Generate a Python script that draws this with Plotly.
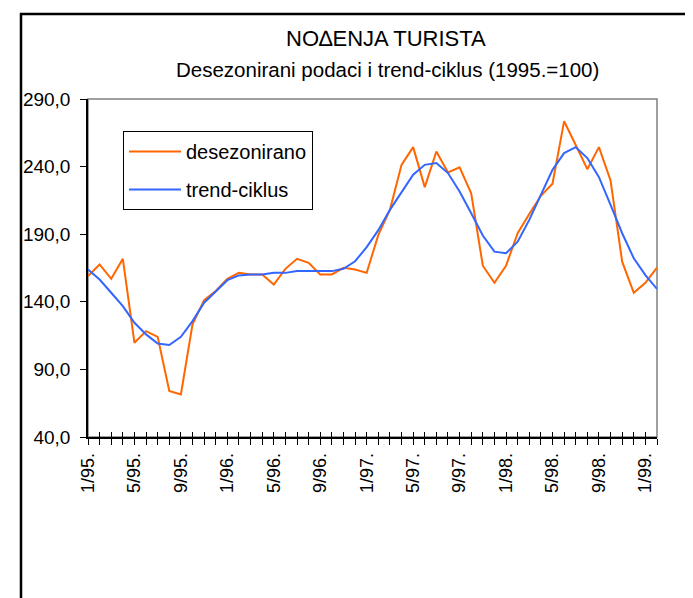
import plotly.graph_objects as go

# Months 1/95 .. 2/99 (50 monthly observations)
periods = [f"{(i % 12) + 1}/{(95 + i // 12) % 100:02d}." for i in range(50)]
label_every = 4

desezonirano = [159.0, 167.6, 157.0, 171.8, 109.7, 118.3, 114.1, 74.0, 71.5, 123.3,
                141.2, 148.0, 157.0, 161.4, 160.2, 160.2, 152.8, 164.4, 171.8, 168.8,
                160.2, 160.2, 165.1, 163.9, 161.4, 189.5, 208.0, 241.3, 254.4, 224.8,
                251.2, 235.7, 239.4, 220.3, 166.7, 154.1, 166.7, 190.7, 205.0, 218.4,
                227.3, 273.5, 256.0, 238.1, 254.4, 229.7, 169.7, 146.7, 154.1, 165.3]

trend_ciklus = [163.9, 156.5, 146.7, 136.8, 124.5, 115.9, 109.2, 108.0, 114.1, 125.7,
                139.3, 148.0, 156.0, 159.5, 160.2, 160.2, 161.4, 161.4, 162.7, 162.7,
                162.7, 162.7, 164.4, 170.0, 180.4, 193.0, 208.0, 220.8, 234.0, 241.3,
                242.6, 235.2, 221.6, 205.5, 189.0, 177.1, 175.9, 184.5, 200.6, 219.1,
                237.6, 250.0, 254.4, 246.3, 232.2, 211.7, 190.7, 172.2, 159.8, 149.5]

y_ticks = [40, 90, 140, 190, 240, 290]
y_ticktext = [f"{v:.1f}".replace(".", ",") for v in y_ticks]

title_text = "NO\u2206ENJA TURISTA"
subtitle_text = "Desezonirani podaci i trend-ciklus (1995.=100)"

x_idx = list(range(len(periods)))
x_ticktext = [p if i % label_every == 0 else "" for i, p in enumerate(periods)]

FONT = "Liberation Sans, Arial, sans-serif"

fig = go.Figure()
fig.add_trace(go.Scatter(x=x_idx, y=desezonirano, mode="lines", name="desezonirano",
                         line=dict(color="#FF6600", width=2), legendgroup="a"))
fig.add_trace(go.Scatter(x=x_idx, y=trend_ciklus, mode="lines", name="trend-ciklus",
                         line=dict(color="#3366FF", width=2), legendgroup="b"))

# page body has an 8px margin; work in page pixel coordinates and subtract it
OFF = 8
W, H = 693 - OFF, 598 - OFF
L, R, T, B = 88 - OFF, 36, 99 - OFF, 161
pw, ph = W - L - R, H - T - B

def px(xp):
    return (xp - OFF - L) / pw

def py(yp):
    return (H - B - (yp - OFF)) / ph

fig.update_layout(
    width=W, height=H,
    margin=dict(l=L, r=R, t=T, b=B, pad=0, autoexpand=False),
    paper_bgcolor="white", plot_bgcolor="white",
    font=dict(family=FONT, color="black"),
    showlegend=True,
    legend=dict(x=px(123), y=py(131), xanchor="left", yanchor="top",
                bordercolor="black", borderwidth=1, bgcolor="white",
                font=dict(size=20, family=FONT), traceorder="grouped",
                tracegroupgap=9, itemwidth=52),
    xaxis=dict(range=[0, len(periods) - 1], tickmode="array", tickvals=x_idx,
               ticktext=x_ticktext, tickangle=-90, ticks="outside", ticklen=6,
               tickcolor="black", tickwidth=1, showline=True, linecolor="black",
               linewidth=1.5, showgrid=False, zeroline=False, automargin=False,
               tickfont=dict(size=18, family=FONT), ticklabelstandoff=1),
    xaxis2=dict(range=[0, len(periods) - 1], overlaying="x", matches="x",
                anchor="y", side="bottom", tickmode="array", tickvals=x_idx,
                ticktext=[""] * len(periods), ticks="inside", ticklen=5,
                tickcolor="black", tickwidth=1, showline=False, showgrid=False,
                zeroline=False, automargin=False),
    yaxis=dict(range=[40, 290], tickmode="array", tickvals=y_ticks,
               ticktext=y_ticktext, ticks="outside", ticklen=6, tickcolor="black",
               showline=True, linecolor="black", linewidth=1.5, showgrid=False,
               zeroline=False, automargin=False, tickfont=dict(size=19, family=FONT),
               ticklabelstandoff=6),
    shapes=[
        dict(type="rect", xref="paper", yref="paper", x0=0, x1=1, y0=0, y1=1,
             line=dict(color="#808080", width=1.5), layer="below"),
        dict(type="rect", xref="paper", yref="paper", x0=px(21), x1=px(720),
             y0=py(640), y1=py(14), line=dict(color="black", width=2.5),
             layer="below"),
    ],
    annotations=[
        dict(text=title_text, xref="paper", yref="paper", x=px(386), y=py(38),
             xanchor="center", yanchor="middle", showarrow=False,
             font=dict(size=22, family=FONT)),
        dict(text=subtitle_text, xref="paper", yref="paper", x=px(387), y=py(70),
             xanchor="center", yanchor="middle", showarrow=False,
             font=dict(size=20.5, family=FONT)),
    ],
)

# invisible trace so the overlaid tick axis is drawn
fig.add_trace(go.Scatter(x=[0], y=[40], xaxis="x2", yaxis="y", mode="markers",
                         marker=dict(opacity=0), showlegend=False, hoverinfo="skip"))

fig.write_html("out.html")
